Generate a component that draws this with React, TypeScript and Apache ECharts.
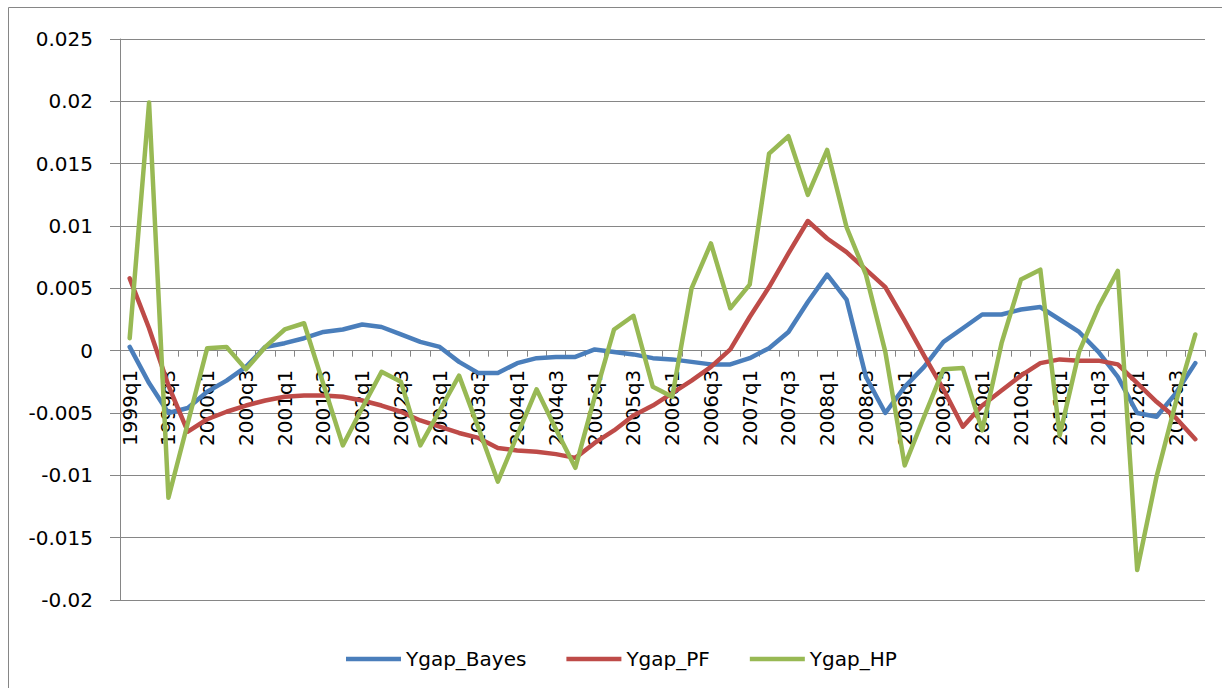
import React, { useEffect, useRef } from "react";
import * as echarts from "echarts";

const years = [1999, 2000, 2001, 2002, 2003, 2004, 2005, 2006, 2007, 2008, 2009, 2010, 2011, 2012];
const quarters = ["q1", "q2", "q3", "q4"];
const categories: string[] = [];
years.forEach((y) => quarters.forEach((q) => categories.push(`${y}${q}`)));

const ygapBayes = [
  0.0003, -0.0026, -0.005, -0.0046, -0.0033, -0.0024, -0.0013, 0.0003,
  0.0006, 0.001, 0.0015, 0.0017, 0.0021, 0.0019, 0.0013, 0.0007,
  0.0003, -0.0009, -0.0018, -0.0018, -0.001, -0.0006, -0.0005, -0.0005,
  0.0001, -0.0001, -0.0003, -0.0006, -0.0007, -0.0009, -0.0011, -0.0011,
  -0.0006, 0.0002, 0.0015, 0.0039, 0.0061, 0.0041, -0.0021, -0.005,
  -0.0029, -0.0013, 0.0007, 0.0018, 0.0029, 0.0029, 0.0033, 0.0035,
  0.0025, 0.0015, -0.0001, -0.0021, -0.005, -0.0053, -0.0034, -0.001,
];

const ygapPF = [
  0.0058, 0.0018, -0.0028, -0.0065, -0.0055, -0.0049, -0.0044, -0.004,
  -0.0037, -0.0036, -0.0036, -0.0037, -0.004, -0.0044, -0.0049, -0.0056,
  -0.0061, -0.0066, -0.007, -0.0078, -0.008, -0.0081, -0.0083, -0.0086,
  -0.0074, -0.0064, -0.0052, -0.0044, -0.0034, -0.0024, -0.0013, 0.0001,
  0.0027, 0.0051, 0.0078, 0.0104, 0.009, 0.0079, 0.0065, 0.0051,
  0.0024, -0.0004, -0.0031, -0.0061, -0.0044, -0.0032, -0.002, -0.001,
  -0.0007, -0.0008, -0.0008, -0.0011, -0.0026, -0.0041, -0.0054, -0.0071,
];

const ygapHP = [
  0.001, 0.0199, -0.0118, -0.0058, 0.0002, 0.0003, -0.0015, 0.0003,
  0.0017, 0.0022, -0.0027, -0.0076, -0.0046, -0.0017, -0.0025, -0.0076,
  -0.0048, -0.002, -0.0062, -0.0105, -0.0068, -0.0031, -0.0063, -0.0094,
  -0.0037, 0.0017, 0.0028, -0.0029, -0.0037, 0.005, 0.0086, 0.0034,
  0.0053, 0.0158, 0.0172, 0.0125, 0.0161, 0.0099, 0.0061, -0.0001,
  -0.0092, -0.0053, -0.0015, -0.0014, -0.0064, 0.0006, 0.0057, 0.0065,
  -0.0068, -0.0001, 0.0035, 0.0064, -0.0176, -0.0101, -0.0041, 0.0013,
];

const seriesNames = ["Ygap_Bayes", "Ygap_PF", "Ygap_HP"];
const seriesColors = ["#4A7EBB", "#BE4B48", "#98B954"];
const seriesData = [ygapBayes, ygapPF, ygapHP];

const FONT = "DejaVu Sans";
const GRID = "#868686";

export default function App() {
  const ref = useRef<HTMLDivElement>(null);
  useEffect(() => {
    if (!ref.current) return;
    const chart = echarts.init(ref.current, null, { renderer: "svg" });
    chart.setOption({
      animation: false,
      backgroundColor: "#ffffff",
      graphic: [
        {
          type: "rect",
          shape: { x: 8.5, y: 7.5, width: 1400, height: 1000 },
          style: { fill: "none", stroke: GRID, lineWidth: 1 },
          silent: true,
        },
      ],
      grid: { left: 120, right: 17, top: 39, bottom: 88, outerBoundsMode: "none", containLabel: false },
      legend: {
        left: 341,
        top: 644,
        itemWidth: 55,
        itemHeight: 20,
        itemGap: 40,
        icon: "path://M0,7.75 L55,7.75 L55,12.25 L0,12.25 Z",
        textStyle: { fontFamily: FONT, fontSize: 20, color: "#000000" },
        data: seriesNames,
      },
      xAxis: {
        type: "category",
        data: categories,
        boundaryGap: true,
        offset: -249.33,
        axisLine: { show: true, onZero: false, lineStyle: { color: GRID, width: 1 } },
        axisTick: { show: true, interval: 0, length: 6, lineStyle: { color: GRID, width: 1 } },
        axisLabel: {
          interval: 1,
          rotate: 90,
          margin: 19,
          fontFamily: FONT,
          fontSize: 20,
          color: "#000000",
        },
        splitLine: { show: false },
      },
      yAxis: {
        type: "value",
        min: -0.02,
        max: 0.025,
        interval: 0.005,
        axisLine: { show: true, lineStyle: { color: GRID, width: 1 } },
        axisTick: { show: true, length: 10, lineStyle: { color: GRID, width: 1 } },
        axisLabel: {
          margin: 27,
          fontFamily: FONT,
          fontSize: 20,
          color: "#000000",
          formatter: (v: number) => String(parseFloat(v.toFixed(4))),
        },
        splitLine: { show: true, lineStyle: { color: GRID, width: 1 } },
      },
      series: seriesNames.map((name, i) => ({
        name,
        type: "line",
        data: seriesData[i],
        showSymbol: false,
        symbol: "none",
        color: seriesColors[i],
        lineStyle: { color: seriesColors[i], width: 4.5, cap: "round", join: "round" },
        itemStyle: { color: seriesColors[i] },
      })),
    });
    return () => chart.dispose();
  }, []);
  return (
    <div
      ref={ref}
      style={{ position: "fixed", left: 0, top: 0, width: 1222, height: 688 }}
    />
  );
}
